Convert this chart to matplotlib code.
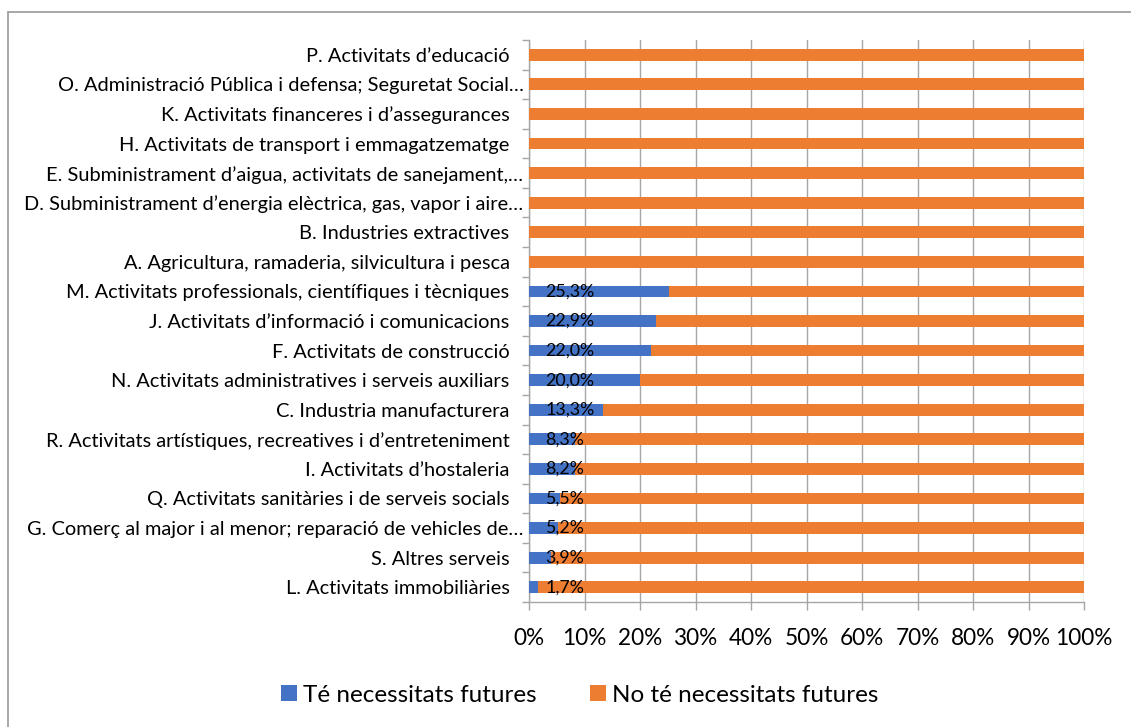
import matplotlib.pyplot as plt
import matplotlib.patches as mpatches
import numpy as np

plt.rcParams['font.family'] = ['Lato', 'DejaVu Sans']

# categories from bottom to top
categories = [
    "L. Activitats immobiliàries",
    "S. Altres serveis",
    "G. Comerç al major i al menor; reparació de vehicles de…",
    "Q. Activitats sanitàries i de serveis socials",
    "I. Activitats d’hostaleria",
    "R. Activitats artístiques, recreatives i d’entreteniment",
    "C. Industria manufacturera",
    "N. Activitats administratives i serveis auxiliars",
    "F. Activitats de construcció",
    "J. Activitats d’informació i comunicacions",
    "M. Activitats professionals, científiques i tècniques",
    "A. Agricultura, ramaderia, silvicultura i pesca",
    "B. Industries extractives",
    "D. Subministrament d’energia elèctrica, gas, vapor i aire…",
    "E. Subministrament d’aigua, activitats de sanejament,…",
    "H. Activitats de transport i emmagatzematge",
    "K. Activitats financeres i d’assegurances",
    "O. Administració Pública i defensa; Seguretat Social…",
    "P. Activitats d’educació",
]
te_necessitats = [1.7, 3.9, 5.2, 5.5, 8.2, 8.3, 13.3, 20.0, 22.0, 22.9, 25.3,
                  0, 0, 0, 0, 0, 0, 0, 0]
no_te_necessitats = [100 - v for v in te_necessitats]
xticks = list(range(0, 101, 10))

blue = '#4472C4'
orange = '#ED7D31'
grid_col = '#A6A6A6'

fig = plt.figure(figsize=(11.31, 7.27), dpi=100)
ax = fig.add_axes([529/1131, 1 - 602/727, (1084 - 529)/1131, (602 - 40)/727])

y = np.arange(len(categories))
ax.barh(y, te_necessitats, height=0.4, color=blue, label='Té necessitats futures', zorder=3)
ax.barh(y, no_te_necessitats, left=te_necessitats, height=0.4, color=orange,
        label='No té necessitats futures', zorder=3)

# etiquetes de dades a la base de la barra
for yi, v in zip(y, te_necessitats):
    if v > 0:
        ax.text(2.9, yi, f"{v:.1f}%".replace('.', ','), va='center', ha='left',
                fontsize=12.8, color='black', zorder=4)

ax.set_xlim(0, 100)
ax.set_ylim(-0.5, len(categories) - 0.5)
ax.set_xticks(xticks)
ax.set_xticklabels([f"{t}%" for t in xticks], fontsize=16.3)
ax.tick_params(axis='x', length=6, width=1, color=grid_col, pad=13)
ax.grid(axis='x', color=grid_col, linewidth=1, zorder=0)

ax.set_yticks(y)
ax.set_yticklabels(categories, fontsize=14.4)
ax.tick_params(axis='y', which='major', length=0, pad=14)
ax.set_yticks(np.arange(-0.5, len(categories), 1), minor=True)
ax.tick_params(axis='y', which='minor', length=5, width=1, color=grid_col)
for tick, lab in zip(ax.yaxis.get_major_ticks(), categories):
    if lab.endswith('…'):
        tick.set_pad(4)

for s in ['top', 'right']:
    ax.spines[s].set_visible(False)
for s in ['left', 'bottom']:
    ax.spines[s].set_color(grid_col)
    ax.spines[s].set_linewidth(1)

h, l = ax.get_legend_handles_labels()
fig.legend(h, l, loc='center', bbox_to_anchor=(580/1131, 1 - 695/727), ncol=2,
           frameon=False, fontsize=17.5, handlelength=0.66, handleheight=0.66,
           handletextpad=0.25, columnspacing=2.2)

fig.patches.append(mpatches.Rectangle((8/1131, -0.1), 1.2, 0.1 + 1 - 12/727,
                                      transform=fig.transFigure, fill=False,
                                      edgecolor='#A0A0A0', linewidth=1.3))

plt.savefig('out.png', dpi=100)
